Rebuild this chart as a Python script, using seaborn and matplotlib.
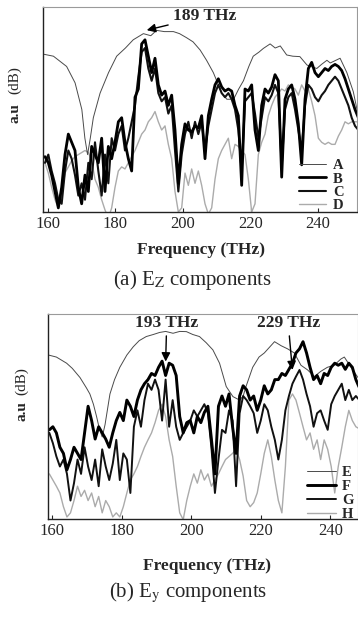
import numpy as np
import matplotlib
matplotlib.use("Agg")
import matplotlib.pyplot as plt
import seaborn as sns

# ---------------- data (arbitrary dB units 0..100) ----------------
# panel (a): thick/gray curves sampled on an even grid
freq_a = np.linspace(159.2, 251.9, 95)
B_a = [27, 24, 18, 10, 2, 12, 28, 38, 34, 30, 12, 4, 18, 10, 32, 28, 24, 36, 10, 32,
       26, 34, 44, 46, 34, 26, 20, 56, 60, 82, 84, 76, 68, 75, 62, 57, 59, 52, 57, 40,
       14, 33, 43, 40, 39, 42, 41, 47, 26, 47, 55, 62, 65, 61, 59, 60, 59, 52, 47, 13,
       60, 59, 62, 40, 30, 52, 60, 58, 61, 67, 64, 17, 55, 60, 62, 55, 43, 23, 55, 70,
       73, 68, 66, 68, 70, 69, 71, 72, 71, 69, 65, 60, 55, 50, 46]
C_a = [24, 28, 20, 14, 6, 4, 20, 30, 26, 18, 8, 14, 6, 24, 16, 34, 20, 8, 28, 14,
       36, 30, 38, 42, 30, 36, 44, 52, 66, 78, 80, 70, 64, 70, 58, 54, 56, 48, 52, 30,
       10, 28, 38, 44, 36, 44, 38, 44, 30, 42, 50, 58, 62, 58, 56, 58, 55, 50, 40, 20,
       54, 56, 58, 48, 36, 46, 56, 54, 57, 62, 58, 22, 50, 56, 58, 50, 40, 30, 52, 62,
       60, 56, 54, 57, 59, 62, 64, 66, 64, 60, 56, 52, 46, 42, 40]
D_a = [24, 19, 12, 6, 2, 8, 19, 22, 25, 27, 28, 29, 30, 29, 25, 16, 12, 6, 1, -3,
       2, 12, 20, 22, 21, 24, 27, 30, 34, 38, 40, 44, 46, 49, 44, 40, 42, 33, 26, 10,
       0, 2, 19, 13, 21, 14, 20, 13, 4, -1, 2, 16, 26, 30, 33, 36, 26, 33, 32, 30,
       28, 16, 0, 4, 28, 34, 38, 47, 52, 56, 58, 60, 59, 62, 61, 60, 57, 62, 59, 60,
       54, 47, 36, 34, 33, 34, 33, 33, 37, 40, 44, 43, 44, 44, 44]
# panel (a): thin curve A
freq_A = [158.7, 161.7, 165.6, 168.1, 170.1, 171.0, 171.8, 172.6, 173.5, 175.5, 178.0,
          180.4, 183.0, 185.3, 188.3, 190.5, 192.2, 194.5, 197.2, 199.0, 201.1, 203.0,
          205.1, 207.0, 209.0, 210.0, 211.5, 213.0, 215.0, 216.5, 217.9, 219.5, 220.8,
          222.5, 223.8, 225.8, 227.3, 228.8, 230.7, 232.5, 234.6, 236.7, 239.6, 241.0,
          242.6, 243.6, 246.5, 248.5, 250.4, 251.5]
A_a = [77, 76, 71, 63, 50, 36, 28, 36, 46, 58, 68,
       76, 80, 84, 87, 86, 88.6, 88, 88, 87, 85, 83,
       79, 74, 68, 64, 58, 55, 55, 60, 64, 71, 76,
       78, 79.8, 82, 80, 81, 76.6, 76, 75.8, 71.7, 70, 72,
       74, 72.7, 75, 68, 58.7, 50]

# panel (b): thick/gray curves sampled on an even grid
freq_b = np.linspace(159.1, 248.4, 89)
F_b = [43.5, 45, 42, 35, 32, 24, 29, 35, 32, 29, 42, 55, 48, 39, 45, 42, 39, 35, 42, 48,
       52, 48, 58, 55, 50, 58, 63, 66, 68, 71, 70, 74, 77, 70, 76, 75, 70, 50, 42, 47,
       48, 42, 50, 47, 52, 55, 39, 22, 55, 60, 55, 61, 45, 32, 60, 65, 63, 58, 60, 53,
       58, 65, 61, 63, 68, 68, 71, 70, 73, 76, 81, 83, 86.5, 81, 74, 68, 70, 66, 71, 70,
       74, 76, 75, 76, 73, 76, 74, 68, 64]
G_b = [42, 37, 30.5, 25.6, 29, 22, 9, 17.5, 29, 22, 35, 25.6, 19, 29, 16, 34, 25.6, 19, 27, 38.6,
       19, 32, 29, 12.7, 45, 53, 45, 58, 66, 63, 68, 63, 48, 68, 45, 58, 45, 38.6, 42, 45,
       48, 53, 50, 53, 56, 51.6, 35, 12.7, 29, 43.5, 42, 53, 48, 16, 51.6, 60, 58, 55, 51.6, 42,
       48, 56, 53, 45, 38.6, 29, 38.6, 53, 60, 66, 69.5, 72.7, 68, 61, 55, 45, 51.6, 53, 48, 43.5,
       56, 60, 63, 66, 58, 63, 58, 60, 58]
H_b = [22, 19, 16, 12.7, 6, 1, 3, 9, 16, 11, 14, 9, 12.7, 6, 11, 3, 9, 6, 1, 3,
       1, 6, 12.7, 19, 22, 25.6, 30.5, 35, 38.6, 42, 47, 53, 56, 50, 38.6, 30.5, 16, 3, -0.3, 9,
       16, 22, 17.5, 24, 19, 22, 16, 19, 22, 25.6, 29, 30.5, 32, 34, 29, 21, 9, 6, 8, 12.7,
       22, 32, 38.6, 30.5, 19, 9, 3, 25.6, 58, 61, 58, 51.6, 45, 38.6, 42, 34, 38.6, 29, 38.6, 34,
       25.6, 12.7, 25.6, 35, 45, 53, 48, 45, 44]
# panel (b): thin curve E
freq_E = [158.8, 161.13, 164.07, 165.7, 167.93, 169.76, 170.77, 171.79, 172.7, 173.51, 174.33,
          175.14, 176.56, 177.88, 179.4, 181.43, 183.26, 184.98, 187.01, 189.04, 190.87, 192.6,
          194.73, 196.66, 198.58, 200.41, 202.34, 204.27, 206.2, 208.12, 209.14, 210.05, 211.98,
          213.91, 214.93, 215.74, 217.67, 219.49, 221.02, 223.96, 225.89, 227.72, 229.65, 231.57,
          233.5, 235.43, 237.26, 239.18, 241.11, 243.04, 244.06, 245.99, 248.0]
E_b = [80, 79, 76, 73.5, 69, 64, 61, 56, 50, 44, 40,
       46, 61, 68, 74, 80, 84, 87, 89, 90, 91, 91.5,
       90.6, 91.5, 91.4, 90, 89, 86, 82.5, 76, 70, 64.6, 59.7,
       58, 60, 64.6, 74, 79, 81, 86.5, 84.5, 83, 81, 75,
       72.7, 69.5, 72, 74, 75, 78, 79, 74, 69]

ticks = [160, 180, 200, 220, 240]

# ---------------- style ----------------
sns.set_style("white")
plt.rcParams["font.family"] = ["Liberation Serif", "DejaVu Serif"]
plt.rcParams["mathtext.fontset"] = "stix"

fig = plt.figure(figsize=(3.58, 6.25), dpi=100)
W, H = 358.0, 625.0
axA = fig.add_axes([43.3 / W, 1 - 212 / H, (357 - 43.3) / W, 205 / H])
axB = fig.add_axes([48.3 / W, 1 - 519 / H, (358 - 48.3) / W, 205 / H])

thin_c, gray_c = "#4a4a4a", "#ababab"

# panel a
sns.lineplot(x=freq_a, y=D_a, ax=axA, color=gray_c, linewidth=1.0, label="D")
sns.lineplot(x=freq_A, y=A_a, ax=axA, color=thin_c, linewidth=0.7, label="A")
sns.lineplot(x=freq_a, y=C_a, ax=axA, color="#111111", linewidth=1.5, label="C")
sns.lineplot(x=freq_a, y=B_a, ax=axA, color="black", linewidth=2.0, label="B")
axA.set_xlim(158.7, 251.5)

# panel b
sns.lineplot(x=freq_b, y=H_b, ax=axB, color=gray_c, linewidth=1.0, label="H")
sns.lineplot(x=freq_E, y=E_b, ax=axB, color=thin_c, linewidth=0.7, label="E")
sns.lineplot(x=freq_b, y=G_b, ax=axB, color="#111111", linewidth=1.4, label="G")
sns.lineplot(x=freq_b, y=F_b, ax=axB, color="black", linewidth=2.1, label="F")
axB.set_xlim(158.8, 248.0)

leg_kw = {axA: dict(handlelength=1.8, handletextpad=0.5, bbox_to_anchor=(0.957, 0.0),
                    labelspacing=0.0),
          axB: dict(handlelength=2.0, handletextpad=0.4, bbox_to_anchor=(0.985, -0.01),
                    labelspacing=0.05)}

for ax in (axA, axB):
    ax.set_ylim(0, 100)
    ax.set_xticks(ticks)
    ax.set_xticklabels([str(t) for t in ticks])
    ax.set_yticks([])
    ax.set_xlabel("")
    ax.set_ylabel("")
    ax.tick_params(axis="x", direction="in", length=3, width=0.8, labelsize=12, pad=3,
                   bottom=True)
    for s in ("top", "right"):
        ax.spines[s].set_color("#9a9a9a")
        ax.spines[s].set_linestyle((0, (1, 1)))
        ax.spines[s].set_linewidth(0.8)
    for s in ("left", "bottom"):
        ax.spines[s].set_color("#222222")
        ax.spines[s].set_linewidth(1.0)
    h, l = ax.get_legend_handles_labels()
    order = sorted(range(len(l)), key=lambda i: l[i])
    ax.legend([h[i] for i in order], [l[i] for i in order], loc="lower right",
              frameon=False, prop=dict(family="Liberation Serif", weight="bold", size=10.5),
              borderpad=0.0, borderaxespad=0.0, **leg_kw[ax])

# annotations
arrow = dict(arrowstyle="-|>", color="black", lw=1.0, mutation_scale=13, shrinkA=1, shrinkB=0)
axA.annotate("189 THz", xy=(189.3, 88.7), xytext=(197.0, 95.5), ha="left", va="center",
             fontsize=12.5, fontweight="bold", annotation_clip=False, arrowprops=arrow)
axB.annotate("193 THz", xy=(192.6, 76.8), xytext=(192.9, 95.5), ha="center", va="center",
             fontsize=12.5, fontweight="bold", annotation_clip=False, arrowprops=arrow)
axB.annotate("229 THz", xy=(229.1, 72.7), xytext=(227.9, 95.5), ha="center", va="center",
             fontsize=12.5, fontweight="bold", annotation_clip=False, arrowprops=arrow)

# axis labels and captions
def ft(x, y, s, **kw):
    fig.text(x / W, 1 - y / H, s, ha="center", va="center", **kw)

ft(15, 113, "a.u", rotation=90, fontsize=11, fontweight="bold")
ft(15, 80, "(dB)", rotation=90, fontsize=11)
ft(22, 411, "a.u", rotation=90, fontsize=11, fontweight="bold")
ft(22, 381, "(dB)", rotation=90, fontsize=11)

ft(201, 250, "Frequency (THz)", fontsize=12.5, fontweight="bold")
ft(207, 566, "Frequency (THz)", fontsize=12.5, fontweight="bold")

ft(192.5, 280, r"(a) E$_\mathrm{Z}$ components", fontsize=15)
ft(188, 593, r"(b) E$_\mathrm{y}$ components", fontsize=15)

fig.savefig("out.png", dpi=100)
